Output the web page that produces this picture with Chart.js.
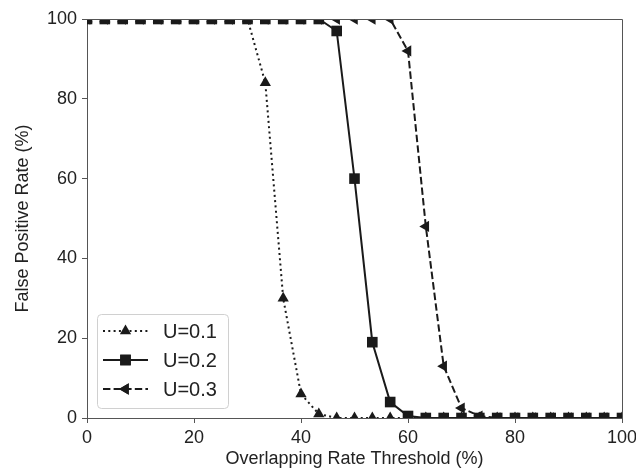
<!DOCTYPE html>
<html>
<head>
<meta charset="utf-8">
<script src="https://cdn.jsdelivr.net/npm/chart.js@4.4.1/dist/chart.umd.min.js"></script>
<style>
  html, body { margin: 0; padding: 0; background: #fff; }
  #wrap { width: 636px; height: 471px; }
</style>
</head>
<body>
<div id="wrap"><canvas id="fprChart" width="636" height="471"></canvas></div>
<script>
const thresholds = [0, 3.33, 6.67, 10, 13.33, 16.67, 20, 23.33, 26.67, 30,
                    33.33, 36.67, 40, 43.33, 46.67, 50, 53.33, 56.67, 60, 63.33,
                    66.67, 70, 73.33, 76.67, 80, 83.33, 86.67, 90, 93.33, 96.67, 100];
const fprU01 = [100, 100, 100, 100, 100, 100, 100, 100, 100, 100,
                84, 30, 6, 1, 0, 0, 0, 0, 0, 0,
                0, 0, 0, 0, 0, 0, 0, 0, 0, 0, 0];
const fprU02 = [100, 100, 100, 100, 100, 100, 100, 100, 100, 100,
                100, 100, 100, 100, 97, 60, 19, 4, 0.5, 0,
                0, 0, 0, 0, 0, 0, 0, 0, 0, 0, 0];
const fprU03 = [100, 100, 100, 100, 100, 100, 100, 100, 100, 100,
                100, 100, 100, 100, 100, 100, 100, 100, 92, 48,
                13, 2.5, 0.5, 0, 0, 0, 0, 0, 0, 0, 0];
const xTicks = [0, 20, 40, 60, 80, 100];
const yTicks = [0, 20, 40, 60, 80, 100];
const seriesLabels = ['U=0.1', 'U=0.2', 'U=0.3'];

const ink   = '#1a1a1a';
const frame = '#555';
const font  = 'Liberation Sans, Arial, Helvetica, sans-serif';

const toPts = vals => vals.map((v, i) => ({ x: thresholds[i], y: v }));

const styles = [
  { dash: [2, 3.3],   pointStyle: 'triangle', rotation: 0,   radius: 6.5 },
  { dash: [],         pointStyle: 'rect',     rotation: 0,   radius: 7.5 },
  { dash: [7.4, 3.2], pointStyle: 'triangle', rotation: -90, radius: 6.5 }
];

const datasets = [fprU01, fprU02, fprU03].map((vals, i) => ({
  label: seriesLabels[i],
  data: toPts(vals),
  borderColor: ink,
  backgroundColor: ink,
  borderWidth: 2,
  borderDash: styles[i].dash,
  borderCapStyle: 'butt',
  tension: 0,
  pointStyle: styles[i].pointStyle,
  rotation: styles[i].rotation,
  pointRadius: styles[i].radius,
  pointBorderWidth: 0,
  pointBackgroundColor: ink,
  clip: 0,
  order: 3 - i
}));

// top + right spines
const framePlugin = {
  id: 'frame',
  afterDraw(chart) {
    const { ctx, chartArea: a } = chart;
    ctx.save();
    ctx.strokeStyle = frame;
    ctx.lineWidth = 1;
    ctx.beginPath();
    ctx.moveTo(a.left, a.top + 0.5);
    ctx.lineTo(a.right + 0.5, a.top + 0.5);
    ctx.lineTo(a.right + 0.5, a.bottom);
    ctx.stroke();
    ctx.restore();
  }
};

// matplotlib-like legend, lower left
const legendPlugin = {
  id: 'mplLegend',
  afterDraw(chart) {
    const { ctx, chartArea: a } = chart;
    const bx = a.left + 10, by = a.bottom - 104, bw = 131, bh = 94, r = 4;
    ctx.save();
    ctx.fillStyle = 'rgba(255,255,255,0.85)';
    ctx.strokeStyle = '#d0d0d0';
    ctx.lineWidth = 1;
    ctx.beginPath();
    ctx.roundRect(bx + 0.5, by + 0.5, bw, bh, r);
    ctx.fill();
    ctx.stroke();

    chart.data.datasets.forEach((ds, i) => {
      const y = by + 17 + i * 29;
      const x0 = bx + 6, x1 = bx + 51;
      ctx.strokeStyle = ink;
      ctx.lineWidth = 2;
      ctx.lineCap = 'butt';
      ctx.setLineDash(ds.borderDash);
      ctx.beginPath();
      ctx.moveTo(x0, y);
      ctx.lineTo(x1, y);
      ctx.stroke();
      ctx.setLineDash([]);
      Chart.helpers.drawPoint(ctx, {
        pointStyle: ds.pointStyle, rotation: ds.rotation,
        radius: ds.pointRadius, borderWidth: 0
      }, (x0 + x1) / 2, y);
      ctx.fillStyle = ink;
      ctx.fill();
      ctx.font = '20px ' + font;
      ctx.fillStyle = '#222';
      ctx.textBaseline = 'middle';
      ctx.fillText(ds.label, bx + 66, y + 1);
    });
    ctx.restore();
  }
};

new Chart(document.getElementById('fprChart'), {
  type: 'line',
  data: { datasets },
  plugins: [framePlugin, legendPlugin],
  options: {
    responsive: false,
    animation: false,
    layout: { padding: { top: 19, right: 14, left: 0, bottom: 0 } },
    plugins: { legend: { display: false }, tooltip: { enabled: false } },
    scales: {
      x: {
        type: 'linear', min: 0, max: 100,
        afterFit: s => { s.height = 53; s.paddingRight = 0; s.paddingLeft = 0; },
        afterBuildTicks: s => { s.ticks = xTicks.map(v => ({ value: v })); },
        grid: { drawOnChartArea: false, drawTicks: true, tickLength: 5, tickColor: frame },
        border: { color: frame, width: 1 },
        ticks: { color: '#222', font: { family: font, size: 18 }, padding: 4, maxRotation: 0 },
        title: { display: true, text: 'Overlapping Rate Threshold (%)', color: '#222',
                 font: { family: font, size: 18 }, padding: { top: 0, bottom: 1 } }
      },
      y: {
        min: 0, max: 100,
        afterFit: s => { s.width = 87; },
        afterBuildTicks: s => { s.ticks = yTicks.map(v => ({ value: v })); },
        grid: { drawOnChartArea: false, drawTicks: true, tickLength: 5, tickColor: frame },
        border: { color: frame, width: 1 },
        ticks: { color: '#222', font: { family: font, size: 18 }, padding: 5 },
        title: { display: true, text: 'False Positive Rate (%)', color: '#222',
                 font: { family: font, size: 18 }, padding: { top: 12, bottom: 0 } }
      }
    }
  }
});
</script>
</body>
</html>
